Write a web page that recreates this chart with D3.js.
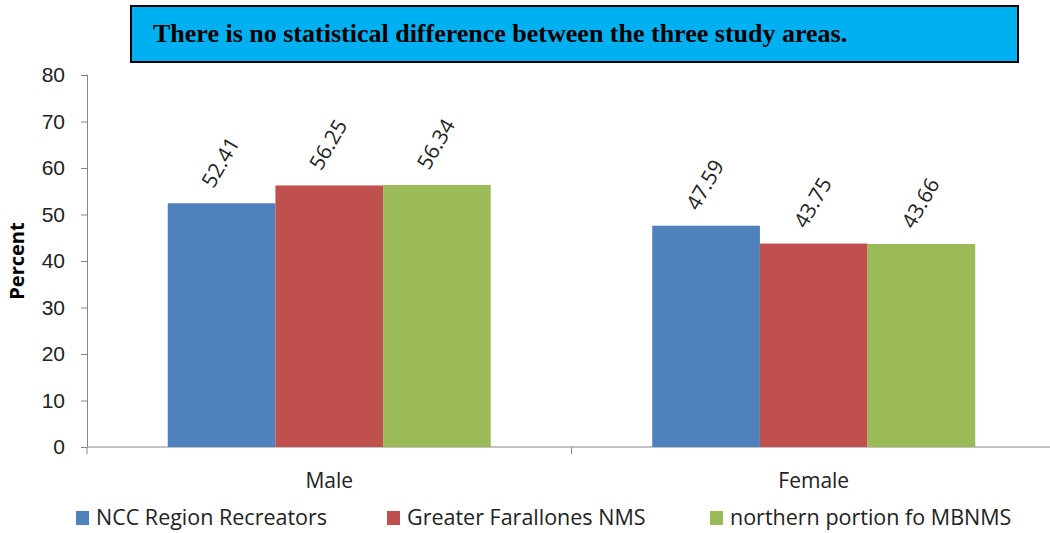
<!DOCTYPE html>
<html>
<head>
<meta charset="utf-8">
<script src="https://cdn.jsdelivr.net/npm/d3@7"></script>
<style>
  body { margin: 0; background: #fff; }
  svg { display: block; font-family: "Open Sans", sans-serif; }
</style>
</head>
<body>
<div id="chart"></div>
<script>
const categories = ['Male', 'Female']
const seriesNames = ['NCC Region Recreators', 'Greater Farallones NMS', 'northern portion fo MBNMS']
const seriesValues = [
    [52.41, 47.59],
    [56.25, 43.75],
    [56.34, 43.66]
]
const yTicks = [0, 10, 20, 30, 40, 50, 60, 70, 80]
const colors = ['#4F81BD', '#C0504D', '#9BBB59']
const note = 'There is no statistical difference between the three study areas.'

const width = 1050
const height = 533
const margin = { top: 75, right: -6, bottom: 86, left: 87 }

const svg = d3.select('#chart')
    .append('svg')
    .attr('width', width)
    .attr('height', height)

const x0 = d3.scaleBand()
    .domain(categories)
    .range([margin.left, width - margin.right])

const x1 = d3.scaleBand()
    .domain(d3.range(seriesNames.length))
    .range([0, x0.bandwidth()])
    .paddingOuter(0.75)

const y = d3.scaleLinear()
    .domain([0, 80])
    .range([height - margin.bottom, margin.top])

// y axis
const yAxis = svg.append('g')
    .attr('transform', `translate(${margin.left},0)`)
    .call(d3.axisLeft(y).tickValues(yTicks).tickSize(6).tickPadding(16))
yAxis.select('.domain').attr('stroke', '#868686').attr('d', `M-0.5,${y(80)}H0.5V${y(0)}`)
yAxis.selectAll('.tick line').attr('stroke', '#868686')
yAxis.selectAll('.tick text').attr('font-size', 21).attr('fill', '#222')

// x axis
const xAxis = svg.append('g')
    .attr('transform', `translate(0,${y(0)})`)
xAxis.append('line')
    .attr('x1', margin.left).attr('x2', width)
    .attr('stroke', '#868686')
xAxis.selectAll('.sep')
    .data(categories.map((c) => x0(c)))
    .enter()
    .append('line')
    .attr('x1', (d) => d).attr('x2', (d) => d)
    .attr('y1', 0).attr('y2', 7)
    .attr('stroke', '#868686')
xAxis.selectAll('.cat')
    .data(categories)
    .enter()
    .append('text')
    .attr('x', (d) => x0(d) + x0.bandwidth() / 2)
    .attr('y', 41)
    .attr('text-anchor', 'middle')
    .attr('font-size', 21)
    .attr('fill', '#222')
    .text((d) => d)

// bars
const groups = svg.selectAll('.grp')
    .data(categories)
    .enter()
    .append('g')
    .attr('transform', (d) => `translate(${x0(d)},0)`)

groups.selectAll('rect')
    .data((d, ci) => seriesValues.map((s, si) => ({ si, v: s[ci] })))
    .enter()
    .append('rect')
    .attr('x', (d) => x1(d.si))
    .attr('width', x1.bandwidth())
    .attr('y', (d) => y(d.v))
    .attr('height', (d) => y(0) - y(d.v))
    .attr('fill', (d) => colors[d.si])

groups.selectAll('.lbl')
    .data((d, ci) => seriesValues.map((s, si) => ({ si, v: s[ci] })))
    .enter()
    .append('text')
    .attr('transform', (d) => `translate(${x1(d.si) + x1.bandwidth() / 2 - 8},${y(d.v) - 14}) rotate(-60)`)
    .attr('font-size', 21)
    .attr('fill', '#222')
    .text((d) => d.v.toFixed(2))

// y label
svg.append('text')
    .attr('transform', `translate(24,${(y(0) + y(80)) / 2}) rotate(-90)`)
    .attr('text-anchor', 'middle')
    .attr('font-size', 20)
    .attr('font-weight', 'bold')
    .text('Percent')

// note box
svg.append('rect')
    .attr('x', 131).attr('y', 6)
    .attr('width', 887).attr('height', 56)
    .attr('fill', '#00B0F0')
    .attr('stroke', '#000')
    .attr('stroke-width', 2)
svg.append('text')
    .attr('x', 153).attr('y', 42)
    .attr('font-family', '"Liberation Serif", serif')
    .attr('font-weight', 'bold')
    .attr('font-size', 26)
    .text(note)

// legend
const legendX = [76, 387, 710]
const legend = svg.selectAll('.leg')
    .data(seriesNames)
    .enter()
    .append('g')
    .attr('transform', (d, i) => `translate(${legendX[i]},511)`)
legend.append('rect')
    .attr('width', 13).attr('height', 14)
    .attr('fill', (d, i) => colors[i])
legend.append('text')
    .attr('x', 20).attr('y', 14)
    .attr('font-size', 21.5)
    .attr('fill', '#222')
    .text((d) => d)
</script>
</body>
</html>
